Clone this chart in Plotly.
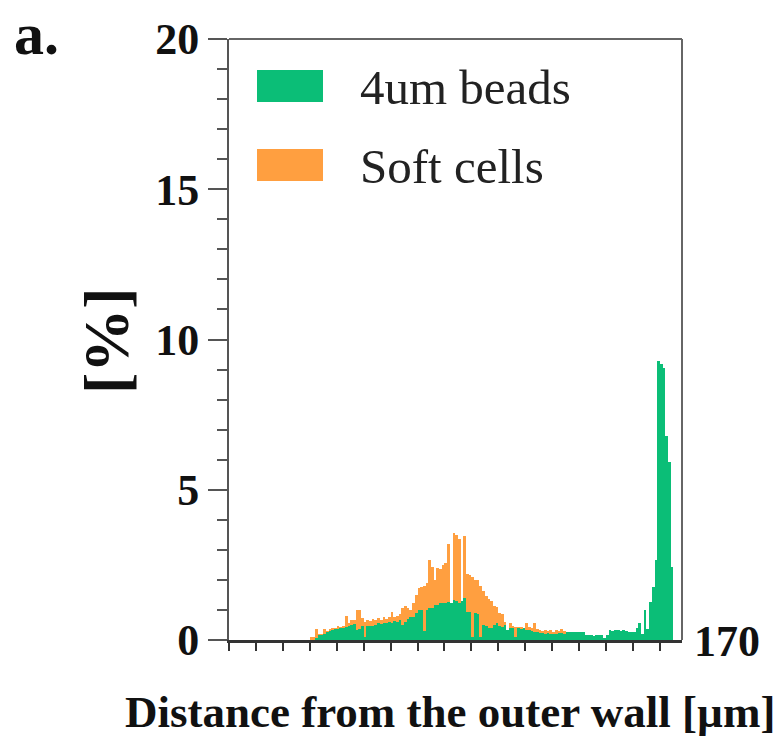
import plotly.graph_objects as go

# ---- data ----
bin_start = 30          # first bin left edge [um]
bin_width = 1.0         # um
beads_4um = [0, 0, 0.05, 0.17, 0.17, 0.2, 0.28, 0.3, 0.33, 0.35,
             0.38, 0.4, 0.4, 0.42, 0.45, 0.5, 0.52, 0.33, 0.35, 0.45,
             0.1, 0.45, 0.48, 0.45, 0.5, 0.55, 0.52, 0.56, 0.58, 0.6,
             0.55, 0.62, 0.6, 0.65, 0.5, 0.6, 0.7, 0.78, 0.75, 0.9,
             1.0, 1.0, 0.3, 1.0, 1.05, 1.05, 1.17, 1.15, 1.22, 1.22,
             1.22, 1.25, 1.22, 1.33, 1.3, 1.22, 1.3, 1.39, 0.94, 0.94,
             0.1, 0.9, 0.88, 0.1, 0.5, 0.45, 0.4, 0.39, 0.5, 0.55,
             0.45, 0.44, 0.5, 0.33, 0.4, 0.39, 0.1, 0.39, 0.38, 0.39,
             0.33, 0.33, 0.3, 0.28, 0.25, 0.22, 0.22, 0.2, 0.22, 0.2,
             0.2, 0.2, 0.22, 0.22, 0.2, 0.25, 0.28, 0.28, 0.26, 0.28,
             0.28, 0.25, 0.17, 0.17, 0.15, 0.14, 0.15, 0.15, 0.15, 0.08,
             0.17, 0.33, 0.3, 0.33, 0.33, 0.3, 0.33, 0.3, 0.28, 0.26,
             0.28, 0.39, 0.55, 0.2, 1.0, 0.35, 1.28, 1.78, 2.67, 9.28,
             9.2, 9.06, 6.78, 5.94, 2.44, 0]
soft_cells = [0.1, 0.1, 0.35, 0.2, 0.2, 0.35, 0.3, 0.35, 0.4, 0.4,
              0.45, 0.42, 0.48, 0.8, 0.55, 0.65, 0.68, 1.0, 1.0, 0.72,
              0.6, 0.68, 0.62, 0.7, 0.66, 0.72, 0.68, 0.75, 0.7, 0.78,
              0.92, 0.75, 0.8, 0.88, 1.05, 1.13, 1.05, 1.0, 1.22, 1.5,
              1.72, 1.78, 1.8, 1.9, 2.67, 2.44, 2.0, 2.4, 2.35, 2.5,
              2.55, 3.2, 1.22, 3.56, 3.5, 3.35, 1.3, 3.45, 2.2, 2.15,
              2.1, 2.0, 2.0, 1.8, 1.62, 1.45, 1.35, 1.3, 1.12, 1.1,
              0.9, 0.85, 0.6, 0.33, 0.55, 0.48, 0.42, 0.42, 0.43, 0.4,
              0.55, 0.42, 0.4, 0.55, 0.35, 0.33, 0.3, 0.33, 0.3, 0.33,
              0.28, 0.33, 0.3, 0.36, 0.3, 0.2]
series_names = ["4um beads", "Soft cells"]
y_ticks = [0, 5, 10, 15, 20]
x_max_label = "170"

GREEN = "#0BBE77"
ORANGE = "#FF9F40"
FONT = "Liberation Serif"

def centers(n):
    return [bin_start + bin_width * (k + 0.5) for k in range(n)]

fig = go.Figure()
fig.add_trace(go.Bar(x=centers(len(soft_cells)), y=soft_cells, width=bin_width,
                     marker=dict(color=ORANGE, line=dict(width=0)),
                     name=series_names[1], showlegend=False))
fig.add_trace(go.Bar(x=centers(len(beads_4um)), y=beads_4um, width=bin_width,
                     marker=dict(color=GREEN, line=dict(width=0)),
                     name=series_names[0], showlegend=False))

W, H = 784, 737
L, R, T, B = 229, 682, 39, 640   # plot area in pixels

def px(x):
    return (x - L) / (R - L)

def py(y):
    return (B - y) / (B - T)

shapes = [
    # top and right frame
    dict(type="line", xref="paper", yref="paper", x0=0, x1=1, y0=1, y1=1,
         line=dict(color="#666666", width=2)),
    dict(type="line", xref="paper", yref="paper", x0=1, x1=1, y0=0, y1=1,
         line=dict(color="#666666", width=2)),
    # legend swatches
    dict(type="rect", xref="paper", yref="paper", x0=px(257), x1=px(323),
         y0=py(102), y1=py(70), fillcolor=GREEN, line=dict(width=0)),
    dict(type="rect", xref="paper", yref="paper", x0=px(257), x1=px(323),
         y0=py(181), y1=py(149), fillcolor=ORANGE, line=dict(width=0)),
]

annotations = [
    dict(text=series_names[0], x=px(358), y=py(87), xref="paper", yref="paper",
         xanchor="left", yanchor="middle", showarrow=False,
         font=dict(family=FONT, size=49, color="#222")),
    dict(text=series_names[1], x=px(358), y=py(166), xref="paper", yref="paper",
         xanchor="left", yanchor="middle", showarrow=False,
         font=dict(family=FONT, size=49, color="#222")),
    dict(text=x_max_label, x=px(692), y=py(641), xref="paper", yref="paper",
         xanchor="left", yanchor="middle", showarrow=False,
         font=dict(family=FONT, size=44, color="#111", weight="bold")),
    dict(text="a.", x=px(13), y=py(0), xref="paper", yref="paper",
         xanchor="left", yanchor="top", showarrow=False, borderpad=0,
         font=dict(family=FONT, size=60, color="#111", weight="bold")),
    dict(text="[%]", x=px(106), y=py(341), xref="paper", yref="paper",
         xanchor="center", yanchor="middle", showarrow=False, textangle=-90,
         font=dict(family=FONT, size=64, color="#111", weight="bold")),
    dict(text="Distance from the outer wall [µm]", x=px(450), y=py(712),
         xref="paper", yref="paper", xanchor="center", yanchor="middle",
         showarrow=False,
         font=dict(family=FONT, size=45, color="#111", weight="bold")),
]

fig.update_layout(
    width=W, height=H,
    margin=dict(l=L, r=W - R, t=T, b=H - B, pad=0),
    paper_bgcolor="white", plot_bgcolor="white",
    barmode="overlay", bargap=0,
    shapes=shapes, annotations=annotations,
    showlegend=False,
)
fig.update_xaxes(range=[0, 168.2], showgrid=False, zeroline=False,
                 showline=True, linecolor="#333333", linewidth=3,
                 ticks="outside", tick0=0, dtick=10, ticklen=8, tickwidth=2,
                 tickcolor="#333333", showticklabels=False)
fig.update_yaxes(range=[0, 20], showgrid=False, zeroline=False,
                 showline=True, linecolor="#555555", linewidth=2,
                 ticks="outside", tickvals=y_ticks, ticklen=19, tickwidth=2,
                 tickcolor="#555555",
                 tickfont=dict(family=FONT, size=44, color="#111", weight="bold"),
                 minor=dict(dtick=1, ticks="outside", ticklen=10, tickwidth=2,
                            tickcolor="#555555", showgrid=False))

fig.write_html("out.html")
